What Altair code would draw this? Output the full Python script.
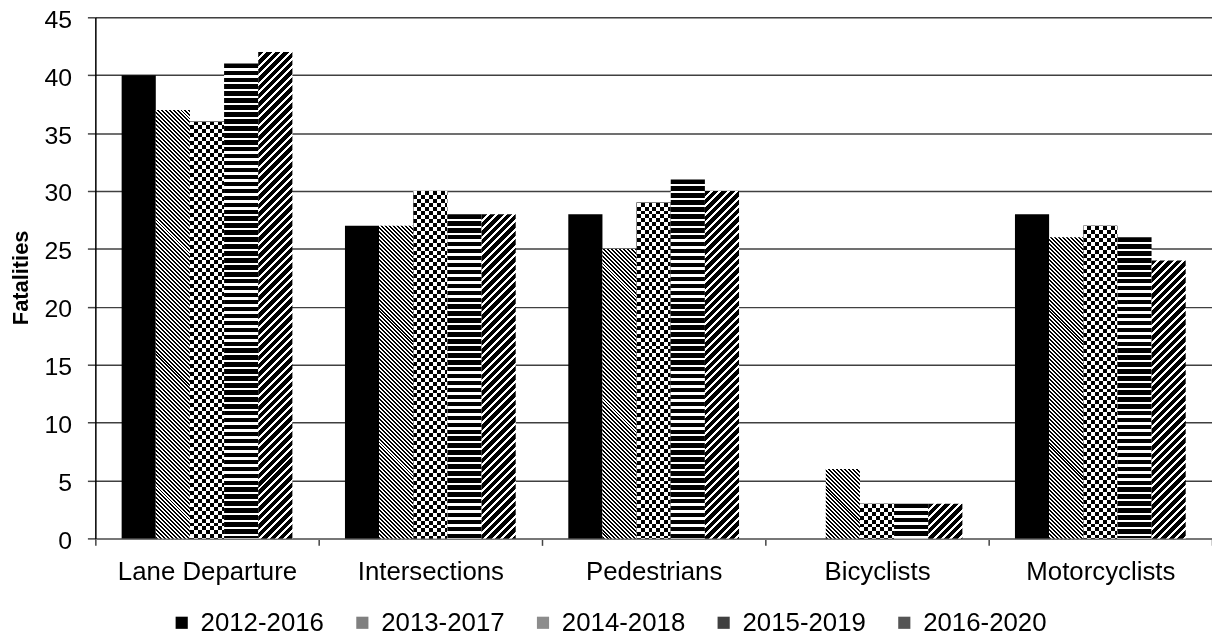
import math
import altair as alt
import pandas as pd

categories = ["Lane Departure", "Intersections", "Pedestrians", "Bicyclists", "Motorcyclists"]
periods = ["2012-2016", "2013-2017", "2014-2018", "2015-2019", "2016-2020"]
v_2012_2016 = [40, 27, 28, 0, 28]
v_2013_2017 = [37, 27, 25, 6, 26]
v_2014_2018 = [36, 30, 29, 3, 27]
v_2015_2019 = [41, 28, 31, 3, 26]
v_2016_2020 = [42, 28, 30, 3, 24]
y_ticks = [0, 5, 10, 15, 20, 25, 30, 35, 40, 45]

all_vals = [v_2012_2016, v_2013_2017, v_2014_2018, v_2015_2019, v_2016_2020]
rows = [
    {"Area": c, "Period": p, "Fatalities": v}
    for p, vals in zip(periods, all_vals)
    for c, v in zip(categories, vals)
]
df = pd.DataFrame(rows)

FONT = "Liberation Sans"
PLOT_W, PLOT_H, Y_MAX = 1125, 525, 45
GROUP_PAD = 0.77
BAR_W = (PLOT_W / len(categories)) / (len(periods) + 2 * GROUP_PAD)
legend_fills = ["#000000", "#808080", "#8c8c8c", "#404040", "#555555"]
BLACK, WHITE, CLEAR = "#000000", "#ffffff", "rgba(255,255,255,0)"


def stripe_stops(s_max, length, period, on_len, on_col, off_col):
    stops = []
    n = 0
    while n * period <= s_max:
        a, b, c = n * period, n * period + on_len, (n + 1) * period
        for off, col in ((a, on_col), (b, on_col), (b, off_col), (c, off_col)):
            stops.append((min(off / length, 1.0), col))
        n += 1
    return [alt.GradientStop(offset=o, color=col) for o, col in stops]


def gradient(x1, y1, x2, y2, stops):
    return alt.LinearGradient(gradient="linear", stops=stops, x1=x1, y1=y1, x2=x2, y2=y2)


def diag_up(h, period, on_len):  # "/" stripes
    k = h / BAR_W
    L = (1 + k * k) * BAR_W
    return gradient(0, 0, 1, k, stripe_stops(BAR_W + h, L, period, on_len, BLACK, WHITE))


def diag_down(h, period, on_len):  # "\" stripes
    k = h / BAR_W
    L = (1 + k * k) * BAR_W
    return gradient(0, 1, 1, 1 - k, stripe_stops(BAR_W + h, L, period, on_len, BLACK, WHITE))


def horiz(h, period, on_len, on_col, off_col):
    return gradient(0, 0, 0, 1, stripe_stops(h, h, period, on_len, on_col, off_col))


vert_stripes = gradient(0, 0, 1, 0, stripe_stops(BAR_W, BAR_W, 8, 4, BLACK, WHITE))

base = alt.Chart(df).encode(
    x=alt.X(
        "Area:N",
        sort=categories,
        title=None,
        scale=alt.Scale(domain=categories, paddingInner=0, paddingOuter=0),
        axis=alt.Axis(
            labelAngle=0,
            labelFontSize=26,
            labelColor="#000000",
            labelFont=FONT,
            labelPadding=13,
            labelLimit=0,
            tickBand="extent",
            tickSize=7,
            tickColor="#444444",
            tickWidth=1.5,
            domainColor="#777777",
            domainWidth=2,
            grid=False,
        ),
    ),
    xOffset=alt.XOffset(
        "Period:N",
        sort=periods,
        scale=alt.Scale(domain=periods, paddingInner=0, paddingOuter=GROUP_PAD),
    ),
    y=alt.Y(
        "Fatalities:Q",
        scale=alt.Scale(domain=[0, Y_MAX], nice=False),
        axis=alt.Axis(
            values=y_ticks,
            title="Fatalities",
            titleFontSize=22,
            titleFontWeight="bold",
            titleFont=FONT,
            titleColor="#000000",
            titleX=-68,
            titleY=262,
            titleBaseline="alphabetic",
            labelFontSize=25,
            labelFont=FONT,
            labelColor="#000000",
            labelPadding=16,
            labelOffset=2,
            tickSize=8,
            tickColor="#444444",
            tickWidth=1.5,
            domainColor="#000000",
            domainWidth=1.5,
            gridColor="#404040",
            gridWidth=1.5,
        ),
    ),
)

legend_layer = base.mark_bar(opacity=0).encode(
    color=alt.Color(
        "Period:N",
        sort=periods,
        scale=alt.Scale(domain=periods, range=legend_fills),
        legend=alt.Legend(
            title=None,
            orient="none",
            legendX=74,
            legendY=597,
            direction="horizontal",
            columns=5,
            symbolType="square",
            symbolSize=150,
            symbolStrokeWidth=0,
            symbolOpacity=1,
            labelFontSize=26,
            labelFont=FONT,
            labelColor="#000000",
            labelOffset=6,
            columnPadding=25,
            labelLimit=0,
        ),
    )
)


def one_bar(cat, per):
    return base.transform_filter((alt.datum.Area == cat) & (alt.datum.Period == per))


def one_series(per):
    return base.transform_filter(alt.datum.Period == per)


layers = [legend_layer]
layers.append(one_series(periods[0]).mark_bar(color=BLACK))
layers.append(one_series(periods[2]).mark_bar(color=vert_stripes))

px_per_unit = PLOT_H / Y_MAX
for cat, v in zip(categories, v_2013_2017):
    if v > 0:
        layers.append(one_bar(cat, periods[1]).mark_bar(color=diag_down(v * px_per_unit, 4, 2)))
for cat, v in zip(categories, v_2014_2018):
    if v > 0:
        layers.append(
            one_bar(cat, periods[2]).mark_bar(
                color=horiz(v * px_per_unit, 8, 4, WHITE, CLEAR), blend="difference"
            )
        )
for cat, v in zip(categories, v_2015_2019):
    if v > 0:
        layers.append(one_bar(cat, periods[3]).mark_bar(color=horiz(v * px_per_unit, 7, 4.5, BLACK, WHITE)))
for cat, v in zip(categories, v_2016_2020):
    if v > 0:
        layers.append(one_bar(cat, periods[4]).mark_bar(color=diag_up(v * px_per_unit, 8.5, 5.5)))

chart = (
    alt.layer(*layers)
    .properties(
        width=PLOT_W,
        height=PLOT_H,
        autosize="none",
        padding={"left": 88, "top": 7, "right": 0, "bottom": 101},
    )
    .configure_view(stroke=None)
    .configure(font=FONT)
)

chart.save("out.html", embed_options={"renderer": "svg", "actions": False})
